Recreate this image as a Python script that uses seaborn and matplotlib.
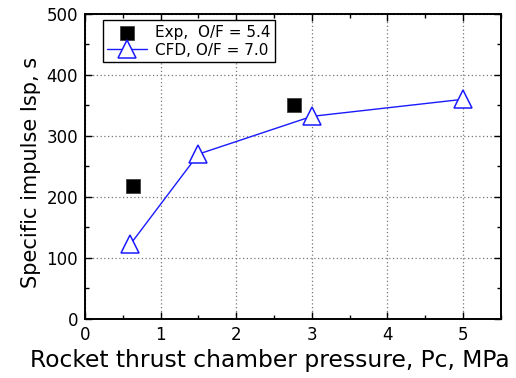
import matplotlib
matplotlib.use("Agg")
import matplotlib.pyplot as plt
from matplotlib.ticker import MultipleLocator
import seaborn as sns
import pandas as pd

# Experimental specific impulse (O/F = 5.4)
exp_pc = [0.63, 2.77]
exp_isp = [217, 350]

# CFD specific impulse (O/F = 7.0)
cfd_pc = [0.6, 1.5, 3.0, 5.0]
cfd_isp = [122, 270, 332, 360]

exp_label = "Exp,  O/F = 5.4"
cfd_label = "CFD, O/F = 7.0"

sns.set_theme(style="ticks")
plt.rcParams["font.family"] = ["DejaVu Sans"]
plt.rcParams["text.color"] = "black"
plt.rcParams["axes.labelcolor"] = "black"

fig = plt.figure(figsize=(5.16, 3.78), dpi=100)
ax = fig.add_axes([0.1647, 0.157, 0.806, 0.806])

df_cfd = pd.DataFrame({"pc": cfd_pc, "isp": cfd_isp})
df_exp = pd.DataFrame({"pc": exp_pc, "isp": exp_isp})

sns.lineplot(data=df_cfd, x="pc", y="isp", ax=ax, color="#1a1aff", lw=1.0,
             marker="^", markersize=12.5, markerfacecolor="white",
             markeredgecolor="#1a1aff", markeredgewidth=1.1,
             label=cfd_label, zorder=3)
sns.scatterplot(data=df_exp, x="pc", y="isp", ax=ax, marker="s", s=100,
                color="black", edgecolor="#333333", linewidth=0.5,
                label=exp_label, zorder=4)

ax.set_xlim(0, 5.5)
ax.set_ylim(0, 500)
ax.xaxis.set_major_locator(MultipleLocator(1))
ax.xaxis.set_minor_locator(MultipleLocator(0.5))
ax.yaxis.set_major_locator(MultipleLocator(100))
ax.yaxis.set_minor_locator(MultipleLocator(50))

ax.grid(True, which="major", color="#777777", linestyle=(0, (1, 2)), lw=0.9)
ax.tick_params(which="both", direction="in", top=True, right=True,
               labelsize=12, colors="black", labelcolor="black", pad=5)
ax.tick_params(which="major", length=5, width=1)
ax.tick_params(which="minor", length=3, width=1)
for sp in ax.spines.values():
    sp.set_linewidth(1.4)
    sp.set_color("black")

ax.set_xlabel("Rocket thrust chamber pressure, Pc, MPa", fontsize=16.8,
              labelpad=4, x=0.445)
ax.set_ylabel("Specific impulse Isp, s", fontsize=15, labelpad=4, y=0.48)

handles, labels = ax.get_legend_handles_labels()
order = [labels.index(exp_label), labels.index(cfd_label)]
leg = ax.legend([handles[i] for i in order], [labels[i] for i in order],
                loc="upper left", bbox_to_anchor=(0.043, 0.98),
                fontsize=11, frameon=True, fancybox=False, framealpha=1,
                edgecolor="black", borderpad=0.3, labelspacing=0.2,
                handlelength=2.6, handletextpad=0.5, borderaxespad=0)
leg.get_frame().set_linewidth(1.0)

fig.savefig("out.png", dpi=100)
